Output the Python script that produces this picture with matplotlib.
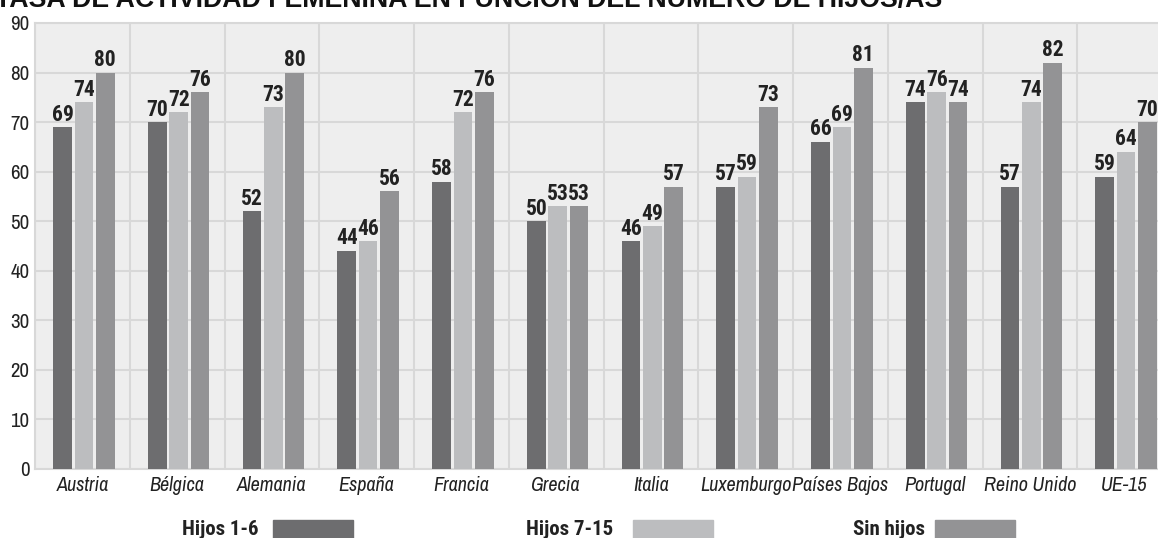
#!/usr/bin/env python3
"""
Tasa de actividad femenina en funcion del numero de hijos/as (UE-15).
"""

import matplotlib
matplotlib.use('Agg')
import matplotlib.pyplot as plt
from matplotlib.patches import Rectangle
from matplotlib import font_manager as fm
import numpy as np

# Datos
paises = ['Austria', 'Bélgica', 'Alemania', 'España', 'Francia', 'Grecia',
          'Italia', 'Luxemburgo', 'Países Bajos', 'Portugal', 'Reino Unido', 'UE-15']
hijos_1_6 = [69, 70, 52, 44, 58, 50, 46, 57, 66, 74, 57, 59]
hijos_7_15 = [74, 72, 73, 46, 72, 53, 49, 59, 69, 76, 74, 64]
sin_hijos = [80, 76, 80, 56, 76, 53, 57, 73, 81, 74, 82, 70]

series = ['Hijos 1-6', 'Hijos 7-15', 'Sin hijos']
colores = ['#6d6d6f', '#bcbdbf', '#939395']

W, H = 1158, 538


def elegir(candidatos):
    """Devuelve la primera fuente estrecha instalada de la lista."""
    disponibles = {f.name for f in fm.fontManager.ttflist}
    for nombre, tam in candidatos:
        if nombre in disponibles:
            return [nombre, 'DejaVu Sans'], tam
    return ['DejaVu Sans'], 12


# Texto normal/cursiva y texto en negrita (Archivo Narrow no trae negrita)
FUENTE, TAM = elegir([('Archivo Narrow', 15), ('Barlow Condensed', 16.5),
                      ('Roboto Condensed', 14)])
FUENTE_B, TAM_B = elegir([('Roboto Condensed', 15.5), ('Barlow Condensed', 16.5)])


def crear_grafica():
    fig = plt.figure(figsize=(W / 100, H / 100), dpi=100)
    ax = fig.add_axes([35 / W, 1 - 469 / H, 1137 / W, 446 / H])
    ax.set_facecolor('#eeeeee')

    x = np.arange(len(paises))
    paso = 0.225
    ancho = 0.197
    valores = [hijos_1_6, hijos_7_15, sin_hijos]

    for j, vals in enumerate(valores):
        pos = x + (j - 1) * paso + 0.016
        ax.bar(pos, vals, width=ancho, color=colores[j], zorder=3)
        for px, v in zip(pos, vals):
            ax.text(px, v + 0.3, f'{v}', ha='center', va='bottom',
                    fontsize=TAM_B, fontweight='bold', color='#222222',
                    family=FUENTE_B, zorder=4)

    ax.set_xlim(-0.5, len(paises) - 0.5)
    ax.set_ylim(0, 90)
    ax.set_yticks(range(0, 91, 10))
    ax.set_yticklabels([str(v) for v in range(0, 91, 10)], family=FUENTE,
                       fontsize=TAM, color='#222222')
    ax.set_xticks(x)
    ax.set_xticklabels(paises, family=FUENTE, fontsize=TAM - 0.5, style='italic',
                       color='#222222')
    ax.set_xticks(np.arange(len(paises) + 1) - 0.5, minor=True)
    ax.tick_params(axis='both', which='both', length=0)
    ax.tick_params(axis='x', pad=5)
    ax.tick_params(axis='y', pad=4)

    ax.grid(True, axis='y', which='major', color='#d8d8d8', linewidth=1.5, zorder=1)
    ax.grid(True, axis='x', which='minor', color='#d8d8d8', linewidth=1.5, zorder=1)
    ax.grid(False, axis='x', which='major')
    for s in ax.spines.values():
        s.set_color('#d8d8d8')
        s.set_linewidth(1.5)

    # Titulo (recortado en la parte superior)
    fig.text(-0.004, 1 - 7 / H, 'TASA DE ACTIVIDAD FEMENINA EN FUNCIÓN DEL NÚMERO DE HIJOS/AS',
             ha='left', va='baseline', fontsize=19.3, fontweight='bold',
             family=['Liberation Sans', 'DejaVu Sans'], color='#111111')

    # Leyenda inferior manual
    leyenda = [(258, 273, 353), (613, 633, 713), (925, 935, 1015)]
    for nombre, color, (tx, p0, p1) in zip(series, colores, leyenda):
        fig.text(tx / W, 1 - 535 / H, nombre, ha='right', va='baseline',
                 fontsize=TAM_B - 0.5, fontweight='bold', family=FUENTE_B,
                 color='#222222')
        fig.patches.append(Rectangle((p0 / W, -0.01), (p1 - p0) / W, 0.01 + 18 / H,
                                     transform=fig.transFigure, color=color))

    fig.savefig('out.png', dpi=100)


if __name__ == '__main__':
    crear_grafica()
